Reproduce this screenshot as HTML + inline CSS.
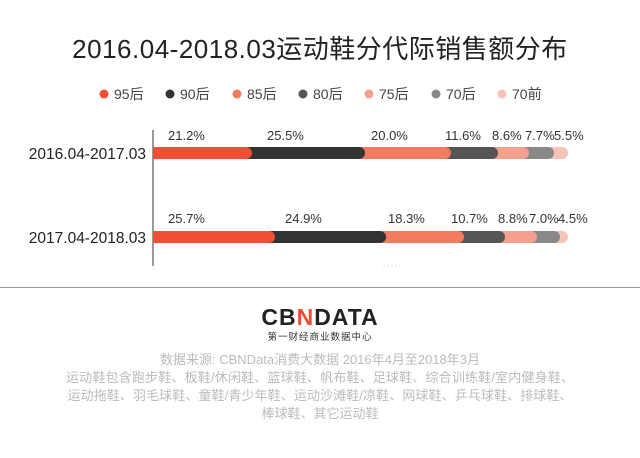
<!DOCTYPE html>
<html><head><meta charset="utf-8"><style>
body{margin:0;background:#fff;width:640px;height:453px;overflow:hidden;font-family:"Liberation Sans","Noto Sans CJK SC",sans-serif}
</style></head><body>
<svg width="640" height="453" xmlns="http://www.w3.org/2000/svg" style="font-family:'Liberation Sans','Noto Sans CJK SC',sans-serif">
<text x="320" y="58" font-size="26" text-anchor="middle" fill="#222" letter-spacing="0.5">2016.04-2018.03运动鞋分代际销售额分布</text>
<g font-size="14" fill="#444">
<circle cx="104" cy="94" r="4.5" fill="#f24e34"/><text x="114" y="99">95后</text>
<circle cx="170" cy="94" r="4.5" fill="#333"/><text x="180" y="99">90后</text>
<circle cx="237" cy="94" r="4.5" fill="#f47a62"/><text x="247" y="99">85后</text>
<circle cx="303" cy="94" r="4.5" fill="#555"/><text x="313" y="99">80后</text>
<circle cx="369" cy="94" r="4.5" fill="#f5a08f"/><text x="379" y="99">75后</text>
<circle cx="436" cy="94" r="4.5" fill="#888"/><text x="446" y="99">70后</text>
<circle cx="502" cy="94" r="4.5" fill="#f7c3b8"/><text x="512" y="99">70前</text>
</g>
<line x1="153" y1="130" x2="153" y2="266" stroke="#333" stroke-width="1"/>
<text x="146" y="159" font-size="15.5" text-anchor="end" fill="#222">2016.04-2017.03</text>
<text x="146" y="243" font-size="15.5" text-anchor="end" fill="#222">2017.04-2018.03</text>
<g>
<rect x="153" y="147" width="415" height="12" rx="6" fill="#f7c3b8"/>
<rect x="153" y="147" width="401" height="12" rx="6" fill="#888"/>
<rect x="153" y="147" width="376" height="12" rx="6" fill="#f5a08f"/>
<rect x="153" y="147" width="345" height="12" rx="6" fill="#555"/>
<rect x="153" y="147" width="298" height="12" rx="6" fill="#f47a62"/>
<rect x="153" y="147" width="212" height="12" rx="6" fill="#333"/>
<rect x="153" y="147" width="99" height="12" rx="6" fill="#f24e34"/>
<rect x="153" y="147" width="10" height="12" fill="#f24e34"/>
</g>
<g>
<rect x="153" y="231" width="415" height="12" rx="6" fill="#f7c3b8"/>
<rect x="153" y="231" width="407" height="12" rx="6" fill="#888"/>
<rect x="153" y="231" width="384" height="12" rx="6" fill="#f5a08f"/>
<rect x="153" y="231" width="352" height="12" rx="6" fill="#555"/>
<rect x="153" y="231" width="311" height="12" rx="6" fill="#f47a62"/>
<rect x="153" y="231" width="233" height="12" rx="6" fill="#333"/>
<rect x="153" y="231" width="122" height="12" rx="6" fill="#f24e34"/>
<rect x="153" y="231" width="10" height="12" fill="#f24e34"/>
</g>
<g font-size="13" fill="#333">
<text x="168" y="140">21.2%</text><text x="267" y="140">25.5%</text><text x="371" y="140">20.0%</text><text x="445" y="140">11.6%</text><text x="492" y="140">8.6%</text><text x="525" y="140">7.7%</text><text x="554" y="140">5.5%</text>
<text x="168" y="223">25.7%</text><text x="285" y="223">24.9%</text><text x="388" y="223">18.3%</text><text x="451" y="223">10.7%</text><text x="498" y="223">8.8%</text><text x="529" y="223">7.0%</text><text x="558" y="223">4.5%</text>
</g>
<line x1="383" y1="266" x2="400" y2="266" stroke="#ddd" stroke-dasharray="2,2"/>
<line x1="0" y1="287.5" x2="640" y2="287.5" stroke="#999" stroke-width="1"/>
<text x="320" y="325" font-size="23" font-weight="bold" text-anchor="middle" fill="#222" letter-spacing="1">CB<tspan fill="#f24e34">N</tspan>DATA</text>
<text x="320" y="340" font-size="9.5" text-anchor="middle" fill="#333" letter-spacing="1">第一财经商业数据中心</text>
<g font-size="13" fill="#bbb" text-anchor="middle">
<text x="320" y="364">数据来源: CBNData消费大数据  2016年4月至2018年3月</text>
<text x="320" y="382" textLength="508">运动鞋包含跑步鞋、板鞋/休闲鞋、篮球鞋、帆布鞋、足球鞋、综合训练鞋/室内健身鞋、</text>
<text x="320" y="400" textLength="505">运动拖鞋、羽毛球鞋、童鞋/青少年鞋、运动沙滩鞋/凉鞋、网球鞋、乒乓球鞋、排球鞋、</text>
<text x="320" y="418">棒球鞋、其它运动鞋</text>
</g>
</svg>
</body></html>
